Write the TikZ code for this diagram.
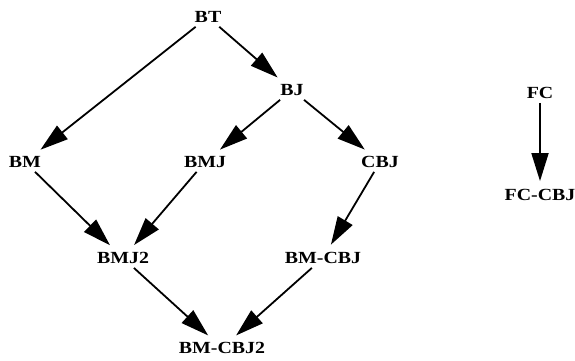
\documentclass[tikz,border=0pt]{standalone}
\usepackage{fontspec}
\setmainfont{Liberation Serif}[FakeStretch=1.17]
\usetikzlibrary{arrows.meta,positioning}

\tikzset{
  alg/.style={font=\fontsize{17}{20}\selectfont\bfseries, inner sep=4pt},
  dep/.style={line width=1.8pt, -{Triangle[length=28pt,width=17pt]}, shorten >=4pt}
}

\begin{document}
\begin{tikzpicture}[x=1pt,y=-1pt]
\useasboundingbox (0,0) rectangle (575,360);

\node[alg] (bt) at (208,17) {BT};
\node[alg] (bj) at (292,90) {BJ};
\node[alg] (bm) at (25,162) {BM};
\node[alg] (bmj) at (205,162) {BMJ};
\node[alg] (cbj) at (380,162) {CBJ};
\node[alg] (bmj2) at (123,258) {BMJ2};
\node[alg] (bmcbj) at (323,258) {BM-CBJ};
\node[alg] (bmcbj2) at (222,348) {BM-CBJ2};
\node[alg] (fc) at (540,93) {FC};
\node[alg] (fccbj) at (540,195) {FC-CBJ};

\draw[dep] (bt) -- (bm);
\draw[dep] (bt) -- (bj);
\draw[dep] (bj) -- (bmj);
\draw[dep] (bj) -- (cbj);
\draw[dep] (bm) -- (bmj2);
\draw[dep] (bmj) -- (bmj2);
\draw[dep] (cbj) -- (bmcbj);
\draw[dep] (bmj2) -- (bmcbj2);
\draw[dep] (bmcbj) -- (bmcbj2);
\draw[dep] (fc) -- (fccbj);
\end{tikzpicture}
\end{document}
